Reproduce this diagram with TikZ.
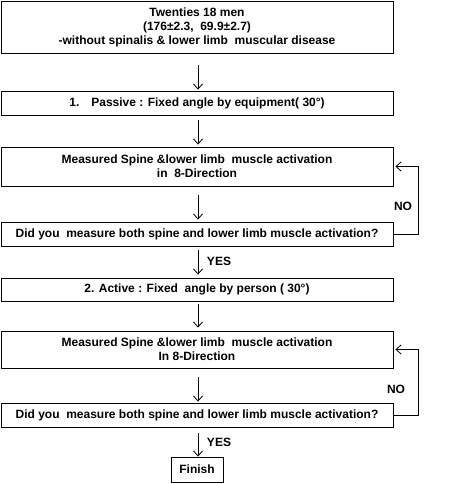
\documentclass[tikz,border=0pt]{standalone}
\usepackage{fontspec}
\setmainfont{Liberation Sans}
\usetikzlibrary{arrows.meta}
\begin{document}
\begin{tikzpicture}[x=1pt,y=-1pt,
  box/.style={draw,line width=0.9pt,minimum width=392pt,inner sep=0pt,align=center,font=\fontsize{12}{14}\selectfont\bfseries},
  arr/.style={line width=0.8pt,-{Straight Barb[length=5pt,width=9pt]}},
  lab/.style={font=\fontsize{12}{14}\selectfont\bfseries,inner sep=0pt}]
\useasboundingbox (0,0) rectangle (456,484);
\node[box,minimum height=52pt] (b1) at (197,27) {Twenties 18 men\\(176±2.3,\ \ 69.9±2.7)\\-without spinalis \& lower limb\ \ muscular disease};
\node[box,minimum height=24pt] (b2) at (197,103) {1.\quad Passive : Fixed angle by equipment( 30°)};
\node[box,minimum height=39pt] (b3) at (197,166.5) {Measured Spine \&lower limb\ \ muscle activation\\in\ \ 8-Direction};
\node[box,minimum height=24pt] (b4) at (197,234) {Did you\ \ measure both spine and lower limb muscle activation?};
\node[box,minimum height=23pt] (b5) at (197,289.5) {2. Active : Fixed\ \ angle by person ( 30°)};
\node[box,minimum height=37pt] (b6) at (197,349.5) {Measured Spine \&lower limb\ \ muscle activation\\In 8-Direction};
\node[box,minimum height=24pt] (b7) at (197,415) {Did you\ \ measure both spine and lower limb muscle activation?};
\node[box,minimum width=52pt,minimum height=25pt] (fin) at (197,469.5) {Finish};
\draw[arr] ([xshift=1pt,yshift=-12pt]b1.south) -- ([xshift=1pt,yshift=1pt]b2.north);
\draw[arr] ([xshift=1pt,yshift=-5pt]b2.south) -- ([xshift=1pt,yshift=2pt]b3.north);
\draw[arr] ([xshift=1pt,yshift=-9pt]b3.south) -- ([xshift=1pt,yshift=2pt]b4.north);
\draw[arr] ([xshift=1pt,yshift=-4pt]b4.south) -- ([xshift=1pt,yshift=3pt]b5.north);
\draw[arr] ([xshift=1pt,yshift=-3pt]b5.south) -- ([xshift=1pt,yshift=3pt]b6.north);
\draw[arr] ([xshift=1pt,yshift=-9pt]b6.south) -- ([xshift=1pt,yshift=1pt]b7.north);
\draw[arr] ([xshift=1pt,yshift=-6pt]b7.south) -- ([xshift=1pt,yshift=0pt]fin.north);
\draw[arr] (b4.east) -- ++(25,0) coordinate (c1) |- ([xshift=2pt]b3.east);
\draw[arr] (b7.east) -- ++(25,0) coordinate (c2) |- ([xshift=2pt]b6.east);
\node[lab] (no1) at (403,206) {NO};
\node[lab] (no2) at (396,389) {NO};
\node[lab] (yes1) at (219,261) {YES};
\node[lab] (yes2) at (219,442) {YES};
\end{tikzpicture}
\end{document}
